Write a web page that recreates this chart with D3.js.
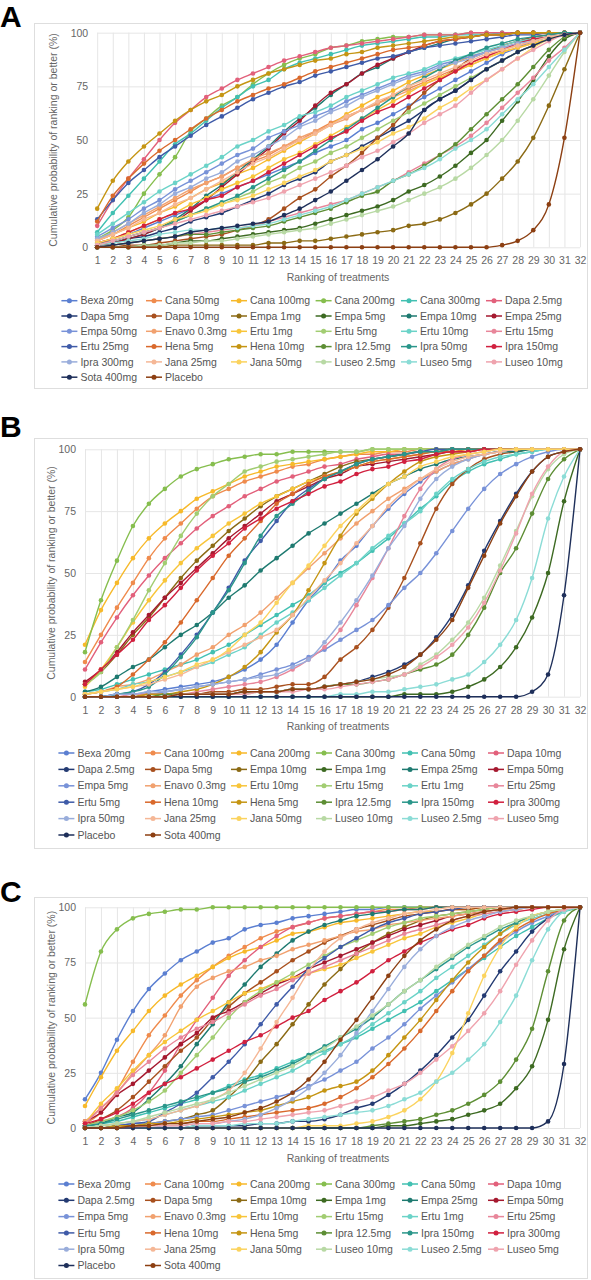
<!DOCTYPE html>
<html>
<head>
<meta charset="utf-8">
<script src="https://cdn.jsdelivr.net/npm/d3@7"></script>
<style>
  body { margin: 0; background: #fff; }
  svg { display: block; font-family: "Liberation Sans", Arial, sans-serif; }
</style>
</head>
<body>
<svg id="chart" width="591" height="1280"></svg>
<script>
// ranks on the x axis, ticks on the y axis
const ranks = [1,2,3,4,5,6,7,8,9,10,11,12,13,14,15,16,17,18,19,20,21,22,23,24,25,26,27,28,29,30,31,32];
const yTicks = [0, 25, 50, 75, 100];

// colour by legend position (same cycle in all three panels)
const palette = ['#5b7fd1','#ef8b4d','#f7b92a','#86be4e','#42c0b2','#e2607b',
                 '#233a72','#a8501e','#8b6a14','#3d6a22','#1e7a70','#a5192f',
                 '#7892d8','#f1a16f','#f8c53a','#a2cd72','#6bd3c8','#e8869a',
                 '#3f5ba8','#d9692c','#c59513','#5d8e34','#2a968a','#d1203f',
                 '#99addb','#f5b796','#fbd35e','#b8d9a4','#8bdcd6','#efa3ae',
                 '#1e2f5a','#8c3f12'];

const namesA = ['Bexa 20mg','Cana 50mg','Cana 100mg','Cana 200mg','Cana 300mg','Dapa 2.5mg',
                'Dapa 5mg','Dapa 10mg','Empa 1mg','Empa 5mg','Empa 10mg','Empa 25mg',
                'Empa 50mg','Enavo 0.3mg','Ertu 1mg','Ertu 5mg','Ertu 10mg','Ertu 15mg',
                'Ertu 25mg','Hena 5mg','Hena 10mg','Ipra 12.5mg','Ipra 50mg','Ipra 150mg',
                'Ipra 300mg','Jana 25mg','Jana 50mg','Luseo 2.5mg','Luseo 5mg','Luseo 10mg',
                'Sota 400mg','Placebo'];

const namesBC = ['Bexa 20mg','Cana 100mg','Cana 200mg','Cana 300mg','Cana 50mg','Dapa 10mg',
                 'Dapa 2.5mg','Dapa 5mg','Empa 10mg','Empa 1mg','Empa 25mg','Empa 50mg',
                 'Empa 5mg','Enavo 0.3mg','Ertu 10mg','Ertu 15mg','Ertu 1mg','Ertu 25mg',
                 'Ertu 5mg','Hena 10mg','Hena 5mg','Ipra 12.5mg','Ipra 150mg','Ipra 300mg',
                 'Ipra 50mg','Jana 25mg','Jana 50mg','Luseo 10mg','Luseo 2.5mg','Luseo 5mg',
                 'Placebo','Sota 400mg'];

// cumulative probability (%) per treatment, in legend order
const valuesA = [
  [2,4,6,9,12,15,18,22, 25,28,31,34,37,40,44,47, 50,55,58,62,66,70,74,78, 82,86,90,93,96,98,99,100],
  [3,6,10,14,18,22,26,30, 33,37,40,43,47,50,54,58, 61,64,67,71,74,77,80,83, 86,89,92,94,96,98,99,100],
  [3,6,9,12,16,19,23,27, 30,34,37,41,45,49,53,57, 62,66,70,73,77,80,83,86, 89,91,93,95,97,98,99,100],
  [4,8,14,25,34,42,54,60, 66,70,76,81,85,88,90,93, 94,96,97,98,98,99,99,99, 100,100,100,100,100,100,100,100],
  [7,16,24,32,40,48,53,59, 65,70,75,78,83,86,88,90, 92,94,95,96,97,98,98,99, 99,99,100,100,100,100,100,100],
  [10,22,32,41,50,58,64,70, 74,78,81,84,87,89,91,93, 94,95,96,97,98,99,99,99, 100,100,100,100,100,100,100,100],
  [1,2,4,5,7,9,12,14, 16,19,22,25,29,32,35,40, 43,47,51,55,59,64,69,73, 78,83,87,91,94,97,99,100],
  [0,0,1,1,2,3,4,5, 6,8,10,13,18,23,27,33, 38,44,51,57,65,72,78,83, 88,91,94,96,98,99,100,100],
  [0,0,0,0,0,1,1,1, 1,1,1,2,2,3,3,4, 5,6,7,8,10,11,13,16, 20,25,32,40,51,66,83,100],
  [0,0,0,1,1,2,3,3, 4,5,6,7,8,9,11,13, 15,17,19,22,26,29,33,38, 44,50,59,68,78,89,97,100],
  [1,2,4,6,9,13,18,24, 29,35,41,47,54,60,65,71, 76,81,84,88,91,93,95,97, 98,99,99,100,100,100,100,100],
  [1,2,4,6,9,12,17,22, 28,34,40,46,53,59,66,72, 76,81,85,88,91,94,96,97, 98,99,99,100,100,100,100,100],
  [5,9,13,18,22,27,31,35, 39,43,46,51,54,57,61,64, 68,71,74,77,80,82,85,87, 89,91,93,95,97,98,99,100],
  [3,7,11,15,19,23,27,30, 33,37,41,44,47,51,54,57, 60,64,67,70,73,76,79,82, 85,88,91,93,95,97,99,100],
  [2,4,7,10,13,16,20,23, 27,30,33,37,41,44,48,52, 56,60,64,68,72,76,79,82, 85,88,91,93,95,97,99,100],
  [1,3,5,7,9,12,15,18, 20,23,26,30,33,37,40,44, 47,51,55,59,63,67,71,75, 79,83,87,91,94,97,99,100],
  [6,11,16,21,26,30,34,38, 42,47,50,54,57,61,63,66, 70,73,76,79,81,83,86,88, 90,92,94,96,97,98,99,100],
  [0,1,2,3,4,5,6,7, 8,9,10,12,14,16,18,20, 22,25,28,31,35,39,43,47, 52,58,65,72,79,87,93,100],
  [13,22,30,36,42,47,52,57, 61,65,69,72,75,77,80,82, 84,86,88,89,91,93,94,95, 96,97,98,99,99,100,100,100],
  [12,24,32,39,45,50,55,60, 64,68,71,74,76,79,82,84, 86,88,90,92,93,94,96,97, 98,99,99,100,100,100,100,100],
  [18,31,40,47,53,59,64,68, 71,75,78,81,83,85,87,88, 90,91,93,94,95,96,97,98, 98,99,99,100,100,100,100,100],
  [0,1,2,3,4,5,6,6, 7,8,9,10,12,14,16,18, 21,24,26,31,34,38,43,48, 55,62,69,76,84,92,98,100],
  [2,3,5,7,9,12,15,18, 21,24,28,32,36,40,45,50, 55,60,65,70,75,79,83,87, 90,93,95,97,98,99,100,100],
  [2,4,7,10,13,16,18,22, 24,28,31,35,39,43,47,51, 54,59,63,66,70,74,78,82, 86,89,92,95,97,98,99,100],
  [4,7,11,16,20,25,28,32, 35,40,43,47,51,56,59,63, 66,70,73,76,79,81,84,86, 88,91,93,95,96,98,99,100],
  [3,6,9,13,16,20,23,27, 31,35,39,42,46,50,53,57, 61,64,68,71,75,78,81,84, 87,90,92,94,96,98,99,100],
  [2,4,6,8,10,13,15,17, 20,22,24,27,30,33,36,40, 43,46,49,53,56,60,65,69, 74,78,83,88,93,97,99,100],
  [0,0,0,1,1,2,2,3, 3,4,5,6,7,8,9,11, 13,15,17,19,22,25,28,32, 37,43,50,59,69,80,91,100],
  [1,2,3,4,6,7,8,8, 9,9,10,11,13,15,17,19, 22,25,28,31,34,37,41,46, 50,55,62,69,76,84,92,100],
  [1,3,5,7,9,11,13,15, 17,19,21,23,26,29,32,35, 38,42,45,49,53,58,62,66, 72,78,83,88,92,96,99,100],
  [0,1,2,3,4,5,7,8, 9,10,11,12,15,18,22,26, 31,36,41,47,53,64,69,73, 78,83,87,91,94,97,99,100],
  [0,0,0,0,0,0,0,0, 0,0,0,0,0,0,0,0, 0,0,0,0,0,0,0,0, 0,0,1,3,8,20,51,100]
];

const valuesB = [
  [0,0,1,1,2,3,4,5, 6,8,11,15,21,30,39,46, 55,61,69,76,82,87,91,94, 96,98,99,100,100,100,100,100],
  [14,25,36,46,56,64,70,76, 81,84,87,89,91,93,94,96, 97,98,98,99,99,100,100,100, 100,100,100,100,100,100,100,100],
  [21,35,46,56,64,70,75,80, 83,86,89,91,93,94,95,96, 97,98,99,99,100,100,100,100, 100,100,100,100,100,100,100,100],
  [18,39,55,69,78,84,89,92, 94,96,97,98,98,99,99,99, 99,99,100,100,100,100,100,100, 100,100,100,100,100,100,100,100],
  [2,3,5,7,9,11,13,15, 18,21,25,29,33,37,41,46, 50,54,59,64,70,76,81,87, 91,94,96,98,99,100,100,100],
  [11,22,32,41,49,56,62,68, 73,77,81,84,87,89,91,93, 94,96,97,98,98,99,99,100, 100,100,100,100,100,100,100,100],
  [0,0,0,0,0,0,1,1, 1,1,2,2,2,3,3,4, 5,6,8,10,13,17,24,33, 45,59,71,82,91,97,99,100],
  [0,0,0,0,1,1,1,1, 2,2,3,3,4,5,5,8, 15,20,27,36,48,62,76,86, 92,96,98,99,100,100,100,100],
  [5,10,17,25,32,40,48,55, 61,67,72,77,81,84,87,90, 93,95,96,97,98,99,99,100, 100,100,100,100,100,100,100,100],
  [0,0,0,0,0,0,0,0, 0,0,0,0,0,0,0,0, 0,0,0,0,1,1,1,2, 4,7,12,20,32,50,79,100],
  [2,4,8,12,15,20,25,29, 34,40,45,51,56,61,66,70, 74,78,82,86,89,92,94,96, 97,98,99,99,100,100,100,100],
  [6,11,18,26,33,40,46,52, 58,64,69,74,79,82,85,88, 90,93,94,95,96,97,98,99, 99,100,100,100,100,100,100,100],
  [0,0,1,1,1,2,3,4, 5,6,7,9,11,13,16,19, 23,27,31,37,44,50,58,67, 76,84,90,94,97,99,100,100],
  [1,2,4,5,7,10,13,17, 20,25,29,34,40,46,52,58, 64,70,75,80,84,88,91,94, 96,98,99,100,100,100,100,100],
  [4,11,20,30,39,47,54,60, 65,70,74,78,81,84,87,89, 91,93,95,96,97,98,99,99, 100,100,100,100,100,100,100,100],
  [5,10,20,31,43,54,65,74, 81,86,91,93,95,96,97,98, 99,99,100,100,100,100,100,100, 100,100,100,100,100,100,100,100],
  [1,2,3,5,6,8,10,12, 14,17,20,25,30,34,39,44, 49,54,60,65,70,75,82,88, 92,95,97,98,99,100,100,100],
  [0,0,0,1,1,1,1,2, 3,4,5,6,8,11,15,20, 27,37,48,60,73,84,92,96, 98,99,100,100,100,100,100,100],
  [0,0,1,2,5,10,17,25, 34,44,55,63,71,79,84,88, 91,94,96,97,98,99,100,100, 100,100,100,100,100,100,100,100],
  [1,2,4,9,15,22,30,39, 48,57,64,71,78,82,86,89, 91,93,95,96,97,98,99,99, 100,100,100,100,100,100,100,100],
  [0,0,0,0,1,1,2,3, 5,8,12,18,26,33,43,54, 65,74,80,86,91,95,97,98, 99,100,100,100,100,100,100,100],
  [0,0,0,0,0,1,1,1, 1,1,2,2,2,3,3,4, 5,5,6,7,9,11,13,17, 25,36,50,60,74,88,96,100],
  [0,0,1,2,4,9,16,24, 34,43,54,65,73,78,83,88, 91,94,96,97,98,99,99,100, 100,100,100,100,100,100,100,100],
  [5,11,17,23,31,37,44,51, 57,62,68,72,76,79,82,85, 87,90,92,93,95,96,98,99, 99,100,100,100,100,100,100,100],
  [0,0,1,1,2,2,3,4, 5,6,7,8,9,12,15,22, 30,39,49,60,69,80,88,93, 96,98,99,100,100,100,100,100],
  [1,2,3,4,5,7,9,12, 15,18,21,24,27,33,40,47, 54,62,69,77,83,88,92,95, 97,98,99,100,100,100,100,100],
  [1,2,3,4,6,8,10,13, 15,19,25,30,38,46,53,61, 69,75,81,86,89,93,95,97, 98,99,100,100,100,100,100,100],
  [0,0,0,0,0,0,1,1, 1,1,1,2,2,3,3,4, 5,6,7,8,9,13,17,23, 30,40,53,67,81,92,98,100],
  [0,0,0,0,0,0,0,0, 0,0,0,0,0,0,0,0, 1,1,2,2,3,4,5,7, 9,14,21,31,48,72,89,100],
  [0,0,0,0,0,0,1,1, 1,1,1,2,2,2,3,3, 4,5,6,7,9,12,16,21, 28,38,51,66,82,93,99,100],
  [0,0,0,0,0,0,0,0, 0,0,0,0,0,0,0,0, 0,0,0,0,0,0,0,0, 0,0,0,0,2,9,41,100],
  [0,0,0,0,0,0,1,1, 1,1,2,2,2,3,3,4, 5,6,7,9,12,17,23,31, 44,57,70,81,91,97,99,100]
];

const valuesC = [
  [13,25,40,53,63,70,76,80, 84,86,90,92,93,95,96,97, 98,99,99,100,100,100,100,100, 100,100,100,100,100,100,100,100],
  [2,7,17,30,42,51,60,67, 73,78,82,86,89,91,93,95, 96,97,98,99,99,100,100,100, 100,100,100,100,100,100,100,100],
  [10,23,35,44,53,60,65,69, 73,77,80,82,85,88,89,91, 93,94,95,96,97,98,98,99, 99,100,100,100,100,100,100,100],
  [56,80,90,95,97,98,99,99, 100,100,100,100,100,100,100,100, 100,100,100,100,100,100,100,100, 100,100,100,100,100,100,100,100],
  [1,2,3,5,7,9,11,13, 16,19,22,24,27,30,33,35, 38,41,45,49,53,57,62,67, 72,77,82,87,91,95,98,100],
  [1,3,5,9,16,26,38,49, 59,69,76,82,87,91,93,95, 96,97,98,98,99,99,100,100, 100,100,100,100,100,100,100,100],
  [0,0,0,0,0,0,0,1, 1,1,1,2,2,3,3,4, 6,9,11,15,20,26,33,41, 49,60,71,80,89,95,99,100],
  [1,4,8,14,21,28,35,41, 49,55,61,66,71,76,80,84, 87,90,92,94,96,97,98,99, 99,100,100,100,100,100,100,100],
  [0,0,1,1,2,3,4,6, 8,14,21,30,38,47,56,65, 72,79,84,88,91,94,96,97, 98,99,100,100,100,100,100,100],
  [0,0,0,0,0,0,0,0, 0,0,0,0,0,0,0,0, 0,0,0,1,1,2,3,4, 6,8,11,18,28,49,81,100],
  [1,2,5,7,13,20,28,38, 47,57,65,73,79,85,89,92, 94,96,97,98,99,99,100,100, 100,100,100,100,100,100,100,100],
  [3,7,15,20,26,32,38,43, 50,53,57,61,65,68,72,75, 78,81,84,87,90,92,94,96, 97,98,99,100,100,100,100,100],
  [0,0,1,2,2,3,4,5, 6,8,10,12,14,16,19,22, 26,30,36,41,47,54,60,66, 72,78,84,89,93,96,99,100],
  [3,9,16,25,33,42,55,64, 68,71,73,76,78,81,83,85, 87,89,90,92,93,94,95,96, 97,98,99,99,100,100,100,100],
  [2,11,18,26,33,39,44,49, 53,57,61,63,66,68,70,72, 74,77,80,83,86,88,91,93, 95,97,98,99,100,100,100,100],
  [1,3,5,8,12,17,25,33, 41,50,57,62,66,70,74,78, 82,85,88,91,93,95,96,97, 98,99,100,100,100,100,100,100],
  [0,1,2,3,4,6,8,10, 12,14,17,20,23,26,30,34, 38,42,47,52,57,62,68,73, 78,83,88,92,95,97,99,100],
  [2,9,16,24,30,36,41,45, 48,52,56,60,63,67,70,73, 76,79,82,85,88,90,92,94, 96,97,98,99,100,100,100,100],
  [0,0,1,2,3,7,11,16, 23,30,38,47,56,64,72,77, 82,86,90,93,95,97,98,99, 100,100,100,100,100,100,100,100],
  [0,0,0,1,1,2,2,3, 3,4,5,6,7,8,9,11, 14,18,23,29,36,44,53,62, 71,78,85,90,94,97,99,100],
  [0,0,1,1,2,2,3,4, 5,6,7,8,10,12,14,17, 19,21,26,33,41,49,58,67, 75,82,88,93,96,98,99,100],
  [0,0,0,0,0,0,0,0, 0,0,0,0,0,0,0,0, 0,0,1,2,3,4,6,8, 11,15,21,31,45,71,94,100],
  [1,2,4,6,8,10,12,14, 16,18,21,23,26,29,33,37, 41,45,50,56,62,67,72,77, 82,86,90,93,96,98,99,100],
  [2,4,7,11,16,20,23,27, 31,35,39,42,46,50,53,58, 62,66,71,76,80,84,87,90, 92,95,97,98,99,100,100,100],
  [0,0,0,0,0,1,1,2, 2,3,4,6,9,13,18,25, 33,43,53,63,73,81,87,91, 94,96,98,99,100,100,100,100],
  [0,1,2,3,4,6,8,10, 13,17,25,36,48,59,71,80, 86,90,93,95,97,98,99,100, 100,100,100,100,100,100,100,100],
  [0,0,0,0,0,0,0,0, 0,0,0,0,0,0,1,1, 1,2,3,5,8,13,21,34, 52,69,82,91,96,98,99,100],
  [0,1,2,3,5,7,9,11, 13,16,19,22,25,28,32,36, 41,46,51,56,62,67,73,78, 83,87,91,94,96,98,99,100],
  [0,0,0,0,0,0,0,1, 1,1,2,2,2,3,4,5, 6,7,8,10,13,16,21,25, 31,38,48,60,76,90,98,100],
  [0,0,0,0,1,1,1,2, 2,3,3,4,5,6,7,8, 10,12,14,17,20,25,31,37, 44,52,62,74,85,94,99,100],
  [0,0,0,0,0,0,0,0, 0,0,0,0,0,0,0,0, 0,0,0,0,0,0,0,0, 0,0,0,0,0,3,29,100],
  [0,0,0,1,1,2,2,3, 4,5,7,9,12,16,22,30, 40,49,59,69,78,85,90,94, 96,98,99,100,100,100,100,100]
];

// panel geometry
const panels = [
  { letter: 'A', letterY: 27, names: namesA, values: valuesA, boxTop: 23, boxBottom: 388,
    left: 97.2, top: 32.7, bottom: 247.3, titleX: 53, rowGap: 15.3, legendTop: 53.4,
    cols: [61.4, 146, 231, 315.6, 401, 486] },
  { letter: 'B', letterY: 437, names: namesBC, values: valuesB, boxTop: 438, boxBottom: 848,
    left: 85, top: 449.3, bottom: 696.7, titleX: 51, rowGap: 16.4, legendTop: 56.3,
    cols: [58.4, 145, 231, 316, 402, 488] },
  { letter: 'C', letterY: 902, names: namesBC, values: valuesC, boxTop: 897, boxBottom: 1278,
    left: 85, top: 907.3, bottom: 1128, titleX: 51, rowGap: 16.3, legendTop: 56,
    cols: [58.4, 145, 231, 316, 402, 488] }
];

const right = 580;
const svg = d3.select('#chart');

panels.forEach(p => {
  const g = svg.append('g');

  g.append('rect')
    .attr('x', 34.5).attr('y', p.boxTop + 0.5)
    .attr('width', 553).attr('height', p.boxBottom - p.boxTop)
    .attr('fill', 'none').attr('stroke', '#dedede');

  g.append('text')
    .attr('x', 0).attr('y', p.letterY)
    .attr('font-size', 30).attr('font-weight', 'bold').attr('fill', '#000')
    .text(p.letter);

  const x = d3.scaleLinear().domain([1, 32]).range([p.left, right]);
  const y = d3.scaleLinear().domain([0, 100]).range([p.bottom, p.top]);

  // X axis with vertical grid
  const xAxis = g.append('g')
    .attr('transform', `translate(0,${p.bottom})`)
    .call(d3.axisBottom(x).tickValues(ranks).tickFormat(d3.format('d'))
      .tickSize(-(p.bottom - p.top)).tickPadding(9.5));
  xAxis.select('.domain').remove();
  xAxis.selectAll('line').attr('stroke', '#e6e6e6');
  xAxis.selectAll('text').attr('fill', '#666').attr('font-size', 10.5)
    .attr('font-family', '"Liberation Sans", Arial, sans-serif');

  // Y axis with horizontal grid
  const yAxis = g.append('g')
    .attr('transform', `translate(${p.left},0)`)
    .call(d3.axisLeft(y).tickValues(yTicks)
      .tickSize(-(right - p.left)).tickPadding(9));
  yAxis.select('.domain').remove();
  yAxis.selectAll('line').attr('stroke', '#e6e6e6');
  yAxis.selectAll('text').attr('fill', '#666').attr('font-size', 10.5)
    .attr('font-family', '"Liberation Sans", Arial, sans-serif');

  g.append('text')
    .attr('transform', `translate(${p.titleX},${(p.top + p.bottom) / 2}) rotate(-90)`)
    .attr('text-anchor', 'middle').attr('dy', '0.35em')
    .attr('font-size', 10.5).attr('fill', '#666')
    .text('Cumulative probability of ranking or better (%)');

  g.append('text')
    .attr('x', (34 + 588) / 2 + 27).attr('y', p.bottom + 33.5)
    .attr('text-anchor', 'middle')
    .attr('font-size', 10.5).attr('fill', '#666')
    .text('Ranking of treatments');

  // Series
  const line = d3.line()
    .x((d, i) => x(ranks[i]))
    .y(d => y(d))
    .curve(d3.curveMonotoneX);

  const series = g.append('g').selectAll('g')
    .data(p.values).join('g')
    .attr('data-color', (d, i) => palette[i]);

  series.append('path')
    .attr('d', d => line(d))
    .attr('fill', 'none')
    .attr('stroke', (d, i) => palette[i])
    .attr('stroke-width', 1.4);

  series.selectAll('circle')
    .data(d => d).join('circle')
    .attr('cx', (d, i) => x(ranks[i]))
    .attr('cy', d => y(d))
    .attr('r', 2.3)
    .attr('fill', function() { return this.parentNode.getAttribute('data-color'); });

  // Legend
  const legend = g.append('g').selectAll('g')
    .data(p.names).join('g')
    .attr('transform', (d, i) =>
      `translate(${p.cols[i % 6]},${p.bottom + p.legendTop + Math.floor(i / 6) * p.rowGap})`);

  legend.append('line')
    .attr('x1', 0).attr('x2', 16).attr('y1', 0).attr('y2', 0)
    .attr('stroke', (d, i) => palette[i]).attr('stroke-width', 1.5);

  legend.append('circle')
    .attr('cx', 8).attr('cy', 0).attr('r', 2.5)
    .attr('fill', (d, i) => palette[i]);

  legend.append('text')
    .attr('x', 19).attr('y', 0).attr('dy', '0.35em')
    .attr('font-size', 10.5).attr('fill', '#555')
    .text(d => d);
});
</script>
</body>
</html>
